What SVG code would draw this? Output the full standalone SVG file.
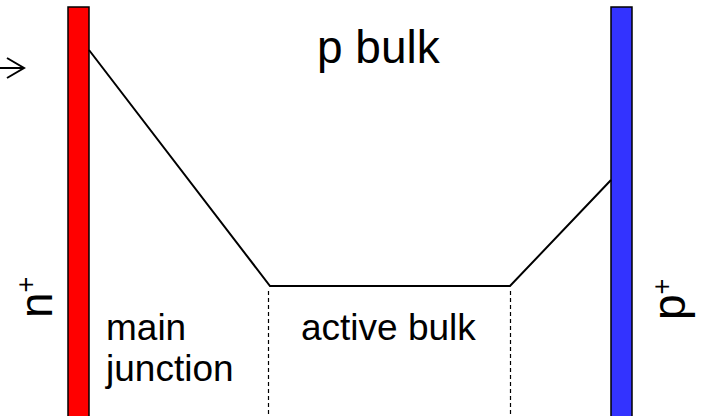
<svg xmlns="http://www.w3.org/2000/svg" width="701" height="416" viewBox="0 0 701 416">
<style>
.t{font-family:"Liberation Sans",Arial,sans-serif;fill:#000}
.ln{fill:none;stroke:#000;stroke-width:2}
.dash{fill:none;stroke:#000;stroke-width:1.2;stroke-dasharray:4,3}
</style>
<rect width="701" height="416" fill="#fff"/>
<g id="arrow-in">
<path class="ln" d="M0,68 H24 M7,58 L24,68 L7,78"/>
</g>
<g id="n-plus">
<rect x="68" y="7" width="21" height="420" fill="#ff0000" stroke="#000" stroke-width="1.5"/>
<text class="t" font-size="46" transform="translate(52,318) rotate(-90)">n<tspan font-size="27" dy="-17">+</tspan></text>
</g>
<g id="p-plus">
<rect x="611" y="7" width="21" height="420" fill="#3333ff" stroke="#000" stroke-width="1.5"/>
<text class="t" font-size="46" transform="translate(685,320) rotate(-90)">p<tspan font-size="27" dy="-14">+</tspan></text>
</g>
<g id="p-bulk">
<text class="t" font-size="46" x="317" y="63">p bulk</text>
</g>
<g id="main-junction">
<text class="t" font-size="37" x="106" y="340">main</text>
<text class="t" font-size="37" x="106" y="381">junction</text>
</g>
<g id="active-bulk">
<text class="t" font-size="37" x="301" y="340">active bulk</text>
</g>
<g id="connectors">
<polyline class="ln" points="89,50 270,286 510,286 611,180"/>
<line class="dash" x1="268.5" y1="291" x2="268.5" y2="416"/>
<line class="dash" x1="510.5" y1="291" x2="510.5" y2="416"/>
</g>
</svg>
